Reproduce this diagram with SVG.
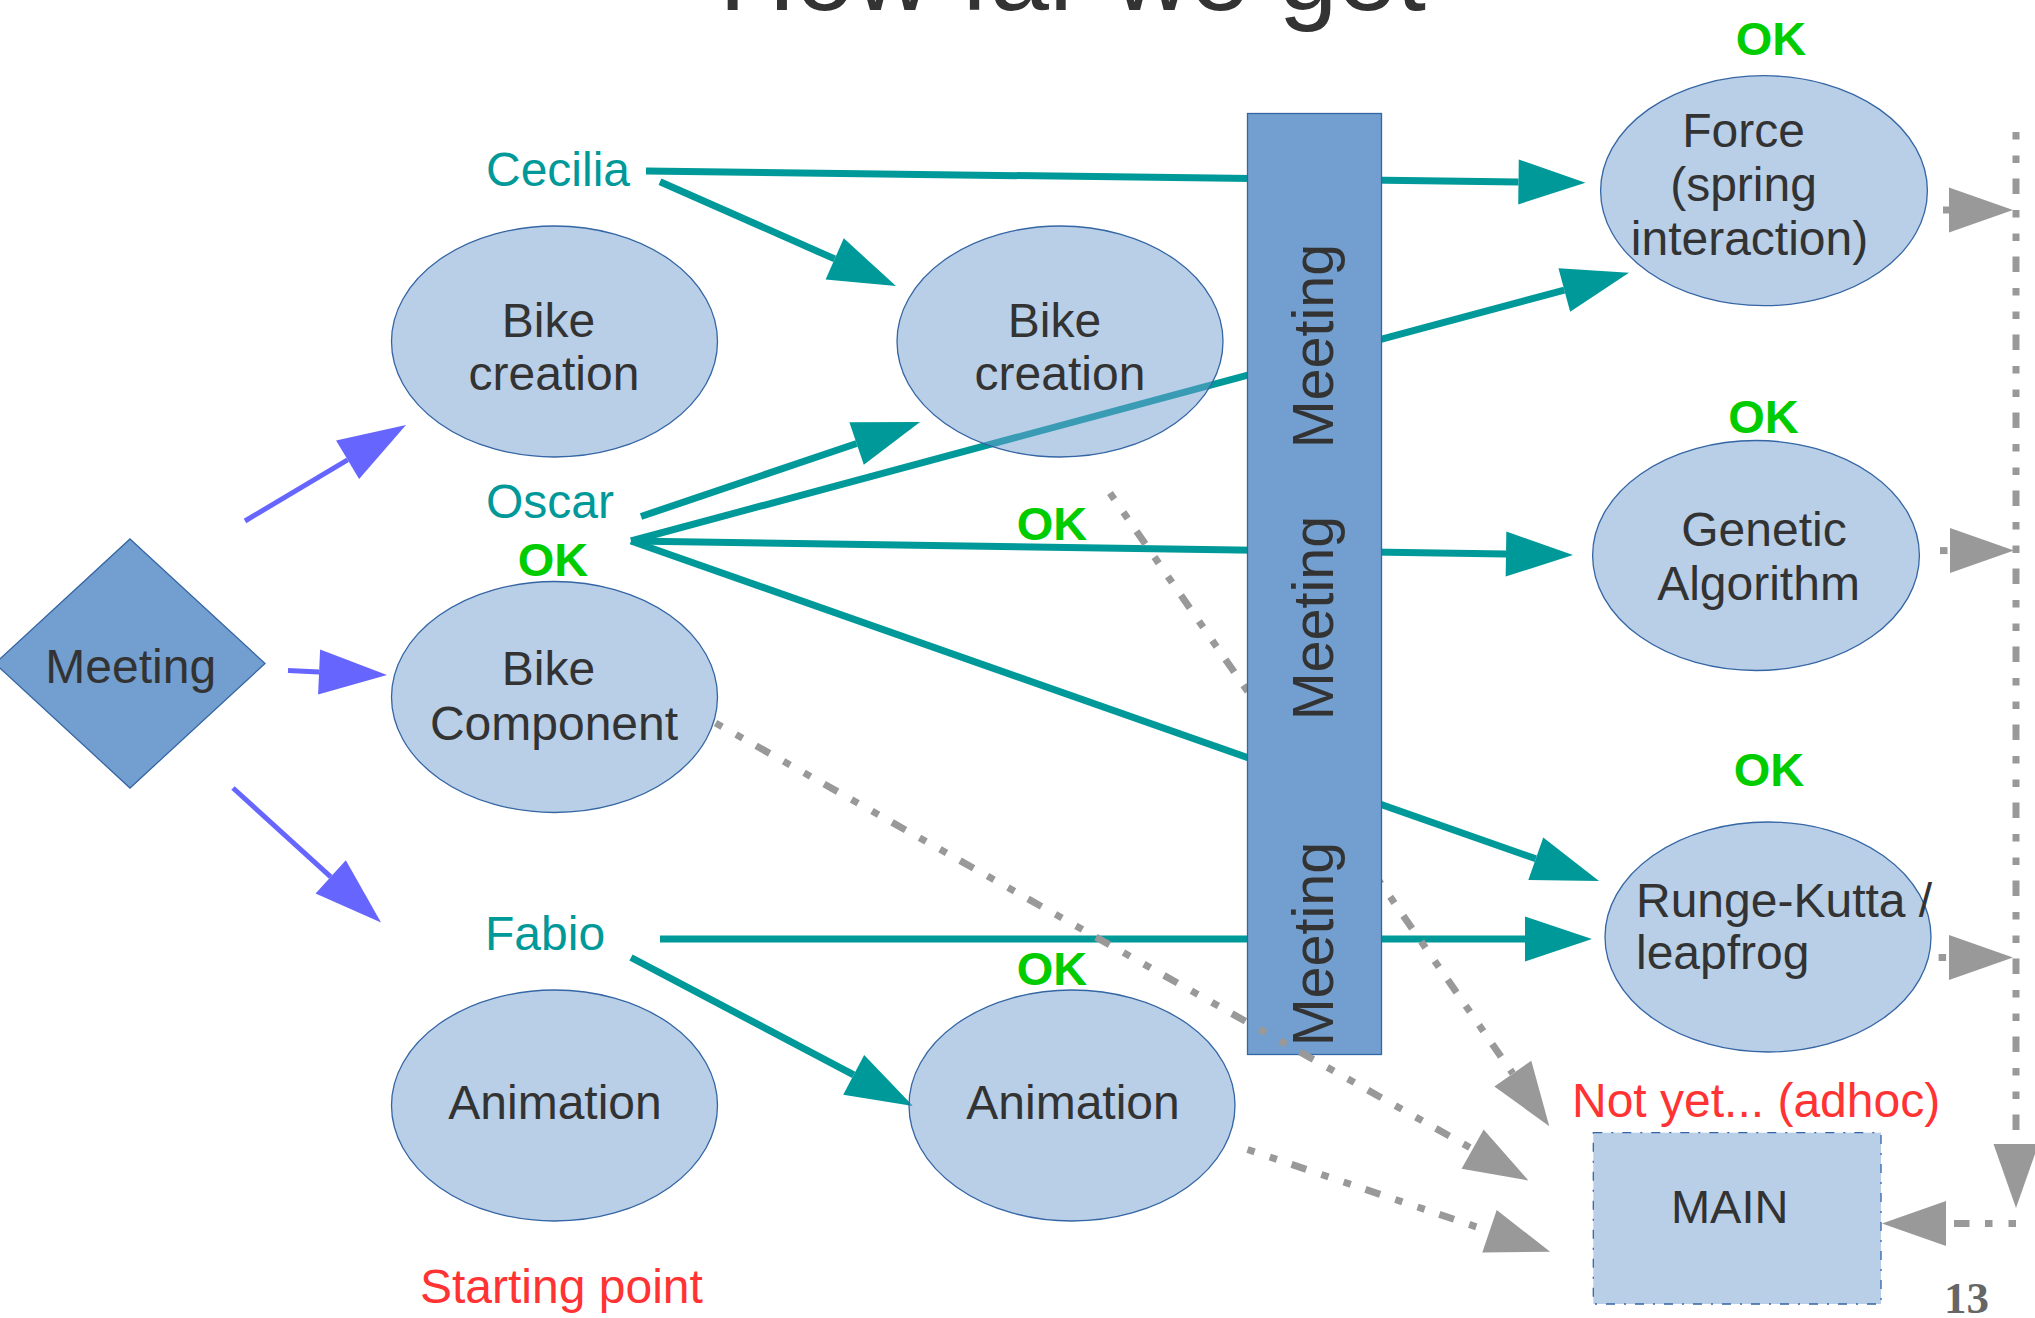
<svg xmlns="http://www.w3.org/2000/svg" width="2035" height="1318" viewBox="0 0 2035 1318">
<style>
  text { font-family: "Liberation Sans", Arial, sans-serif; }
  .t { font-size: 48px; fill: #333333; }
  .c { text-anchor: middle; }
  .ell { fill: #729fcf; fill-opacity: 0.5; stroke: #3465a4; stroke-width: 1.3; }
  .blue { stroke: #6666ff; stroke-width: 5; fill: none; marker-end: url(#ah-blue); }
  .teal { stroke: #009999; stroke-width: 7; fill: none; marker-end: url(#ah-teal); }
  .gray { stroke: #999999; stroke-width: 7; fill: none; stroke-dasharray: 7.5 16 7.5 15.5 15.5 16; marker-end: url(#ah-gray); }
  .name { font-size: 48px; fill: #009999; }
  .ok { font-size: 47px; fill: #00cc00; font-weight: bold; text-anchor: middle; }
  .red { font-size: 48px; fill: #ff3333; }
  .vm { font-size: 57.5px; fill: #333333; text-anchor: middle; }
</style>
<defs>
  <marker id="ah-blue" markerUnits="userSpaceOnUse" markerWidth="70" markerHeight="46" refX="0" refY="22.5" orient="auto" overflow="visible">
    <path d="M0,0 L68,22.5 L0,45 z" fill="#6666ff"/>
  </marker>
  <marker id="ah-teal" markerUnits="userSpaceOnUse" markerWidth="70" markerHeight="46" refX="0" refY="22.5" orient="auto" overflow="visible">
    <path d="M0,0 L67,22.5 L0,45 z" fill="#009999"/>
  </marker>
  <marker id="ah-gray" markerUnits="userSpaceOnUse" markerWidth="70" markerHeight="46" refX="0" refY="22.5" orient="auto" overflow="visible">
    <path d="M0,0 L64,22.5 L0,45 z" fill="#999999"/>
  </marker>
</defs>
<rect width="2035" height="1318" fill="#ffffff"/>

<text id="title" x="719" y="10" style="font-size:106px" fill="#333333">How far we get</text>

<g id="connectors">
  <path class="blue" d="M245,521 L347.6,459.8"/>
  <path class="blue" d="M288,670.5 L319.1,671.9"/>
  <path class="blue" d="M233,788 L330.7,876.8"/>
  <path class="teal" d="M646,171 L1518.5,181.9"/>
  <path class="teal" d="M660,181.7 L834.7,258.9"/>
  <path class="teal" d="M641,516.5 L856.6,443.5"/>
  <path class="teal" d="M631,541 L1564.3,290.1"/>
  <path class="teal" d="M631,541 L1506,554"/>
  <path class="teal" d="M631,541 L1535.8,858.8"/>
  <path class="teal" d="M660,939 L1525,939"/>
  <path class="teal" d="M631,957.5 L853.7,1074.8"/>
  <path class="gray" d="M1110,493 L1512.8,1073.6"/>
  <path class="gray" d="M1247.5,1149.5 L1489.5,1231.3"/>
  <path class="gray" d="M1943,210 L1949,210"/>
  <path class="gray" d="M1940,550.6 L1950,550.6"/>
  <path class="gray" d="M1938.6,957.5 L1949,957.5"/>
  <path class="gray" d="M2016,132 L2016,1144"/>
  <path class="gray" d="M2016,1223.5 L1946,1223.5"/>
</g>

<g id="meeting-diamond">
  <polygon points="130,539 265,663.5 130,788 -5,663.5" fill="#729fcf" stroke="#3465a4" stroke-width="1.3"/>
  <text class="t c" x="130.7" y="683">Meeting</text>
</g>

<g id="bike-creation-1">
  <ellipse class="ell" cx="554.5" cy="341.5" rx="163" ry="115.5"/>
  <text class="t c" x="548.5" y="337">Bike</text>
  <text class="t c" x="554" y="390">creation</text>
</g>
<g id="bike-component">
  <ellipse class="ell" cx="554.5" cy="697" rx="163" ry="115.5"/>
  <text class="t c" x="548.5" y="685">Bike</text>
  <text class="t c" x="554" y="740">Component</text>
</g>
<g id="animation-1">
  <ellipse class="ell" cx="554.5" cy="1105.5" rx="163" ry="115.5"/>
  <text class="t c" x="555" y="1119">Animation</text>
</g>
<g id="bike-creation-2">
  <ellipse class="ell" cx="1060" cy="341.5" rx="163" ry="115.5"/>
  <text class="t c" x="1054.5" y="337">Bike</text>
  <text class="t c" x="1060" y="390">creation</text>
</g>
<g id="animation-2">
  <ellipse class="ell" cx="1072" cy="1105.5" rx="163" ry="115.5"/>
  <text class="t c" x="1073" y="1119">Animation</text>
</g>

<g id="meeting-bar">
  <rect x="1247.5" y="113.5" width="134" height="941" fill="#729fcf" stroke="#3465a4" stroke-width="1.3"/>
  <text class="vm" transform="translate(1333,346) rotate(-90)">Meeting</text>
  <text class="vm" transform="translate(1333,618) rotate(-90)">Meeting</text>
  <text class="vm" transform="translate(1333,944) rotate(-90)">Meeting</text>
</g>

<g id="force">
  <ellipse class="ell" cx="1764" cy="190.7" rx="163.4" ry="115"/>
  <text class="t c" x="1743.5" y="147">Force</text>
  <text class="t c" x="1743.5" y="201">(spring</text>
  <text class="t c" x="1749.5" y="255">interaction)</text>
</g>
<g id="genetic">
  <ellipse class="ell" cx="1756" cy="555.5" rx="163.4" ry="115"/>
  <text class="t c" x="1764" y="546">Genetic</text>
  <text class="t c" x="1758.5" y="600">Algorithm</text>
</g>
<g id="runge-kutta">
  <ellipse class="ell" cx="1768" cy="937" rx="163" ry="115"/>
  <text class="t" x="1636" y="917">Runge-Kutta /</text>
  <text class="t" x="1636" y="969">leapfrog</text>
</g>
<g id="main">
  <rect x="1593.3" y="1132.7" width="287.7" height="171.3" fill="#729fcf" fill-opacity="0.5" stroke="#3465a4" stroke-width="1.3" stroke-dasharray="9 9 2 9"/>
  <text class="c" x="1729.7" y="1223.3" style="font-size:47px" fill="#333333">MAIN</text>
</g>

<g id="connectors-top">
  <path class="gray" d="M715.6,723 L1472.6,1149.1"/>
</g>

<g id="labels">
  <text class="name" x="486" y="186">Cecilia</text>
  <text class="name" x="486" y="518">Oscar</text>
  <text class="name" x="485" y="950">Fabio</text>
  <text class="ok" x="553" y="575.6">OK</text>
  <text class="ok" x="1052" y="540">OK</text>
  <text class="ok" x="1052" y="985">OK</text>
  <text class="ok" x="1771" y="55">OK</text>
  <text class="ok" x="1763.5" y="433">OK</text>
  <text class="ok" x="1769" y="786">OK</text>
  <text class="red" x="420" y="1303">Starting point</text>
  <text class="red" x="1572" y="1117">Not yet... (adhoc)</text>
  <text x="1944" y="1313" style="font-family:'Liberation Serif', 'Times New Roman', serif; font-size:45px; font-weight:bold" fill="#666666">13</text>
</g>
</svg>
